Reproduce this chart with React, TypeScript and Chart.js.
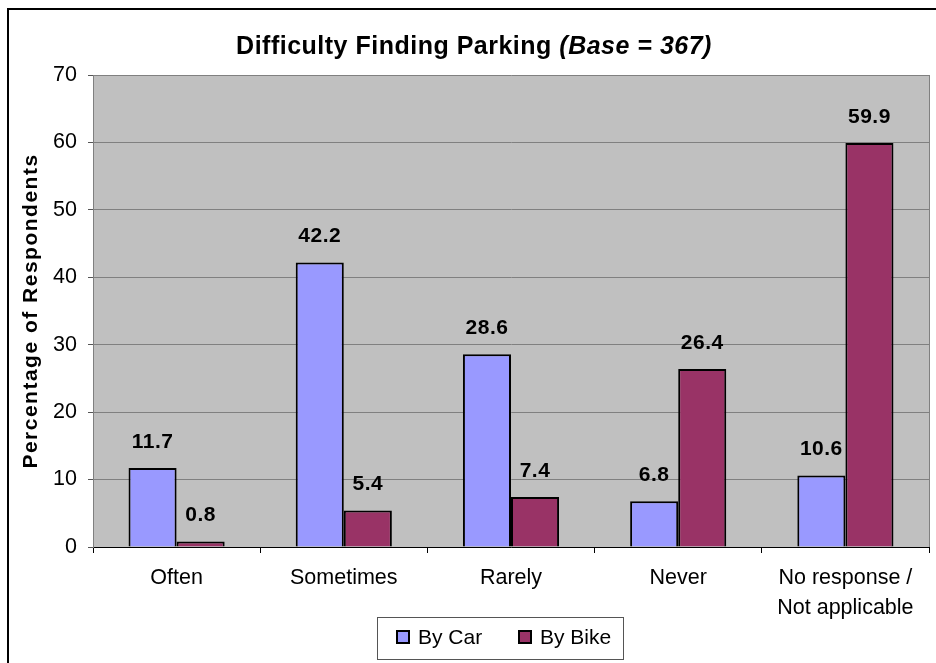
import React, { useEffect, useRef } from 'react';
import { Chart, registerables } from 'chart.js';

Chart.register(...registerables);

const categories: (string | string[])[] = ['Often', 'Sometimes', 'Rarely', 'Never', ['No response /', 'Not applicable']];
const byCar = [11.7, 42.2, 28.6, 6.8, 10.6];
const byBike = [0.8, 5.4, 7.4, 26.4, 59.9];
const seriesNames = ['By Car', 'By Bike'];
const seriesColors = ['#9999FF', '#993366'];
const yMin = 0;
const yMax = 70;
const yStep = 10;
const titleMain = 'Difficulty Finding Parking ';
const titleBase = '(Base = 367)';
const yTitle = 'Percentage of Respondents';

const FONT = 'Arial, "Liberation Sans", sans-serif';

const decor = {
  id: 'decor',
  beforeDraw(chart: any) {
    const { ctx, chartArea: a, width, height } = chart;
    ctx.save();
    ctx.fillStyle = '#FFFFFF';
    ctx.fillRect(0, 0, width, height);
    ctx.fillStyle = '#C0C0C0';
    ctx.fillRect(a.left, a.top, a.right - a.left, a.bottom - a.top);
    ctx.restore();
  },
  afterDatasetsDraw(chart: any) {
    const { ctx } = chart;
    ctx.save();
    ctx.fillStyle = '#000';
    (ctx as any).letterSpacing = '0.5px';
    ctx.font = `bold 21px ${FONT}`;
    ctx.textAlign = 'center';
    ctx.textBaseline = 'middle';
    chart.data.datasets.forEach((ds: any, i: number) => {
      const meta = chart.getDatasetMeta(i);
      meta.data.forEach((bar: any, j: number) => {
        ctx.fillText(ds.data[j].toFixed(1), bar.x, bar.y - 26);
      });
    });
    (ctx as any).letterSpacing = '0px';
    ctx.restore();
  },
  afterDraw(chart: any) {
    const { ctx, chartArea: a, height, width } = chart;
    ctx.save();
    // plot right border
    ctx.strokeStyle = '#808080';
    ctx.lineWidth = 1;
    ctx.beginPath();
    ctx.moveTo(Math.round(a.right) + 0.5, a.top);
    ctx.lineTo(Math.round(a.right) + 0.5, a.bottom);
    ctx.stroke();

    // outer border
    ctx.strokeStyle = '#000';
    ctx.lineWidth = 2;
    ctx.beginPath();
    ctx.moveTo(8, height + 2);
    ctx.lineTo(8, 9);
    ctx.lineTo(width + 2, 9);
    ctx.stroke();

    // title
    ctx.fillStyle = '#000';
    ctx.textBaseline = 'middle';
    ctx.textAlign = 'left';
    (ctx as any).letterSpacing = '0.5px';
    ctx.font = `bold 25px ${FONT}`;
    const w1 = ctx.measureText(titleMain).width;
    ctx.font = `italic bold 25px ${FONT}`;
    const w2 = ctx.measureText(titleBase).width;
    const start = 474 - (w1 + w2) / 2;
    ctx.font = `bold 25px ${FONT}`;
    ctx.fillText(titleMain, start, 47);
    ctx.font = `italic bold 25px ${FONT}`;
    ctx.fillText(titleBase, start + w1, 47);

    // y title
    ctx.save();
    ctx.translate(31, (a.top + a.bottom) / 2);
    ctx.rotate(-Math.PI / 2);
    ctx.textAlign = 'center';
    (ctx as any).letterSpacing = '1.5px';
    ctx.font = `bold 21px ${FONT}`;
    ctx.fillText(yTitle, 0, 0);
    ctx.restore();
    (ctx as any).letterSpacing = '0px';

    // legend
    ctx.strokeStyle = '#555';
    ctx.lineWidth = 1;
    ctx.strokeRect(377.5, 617.5, 246, 42);
    const xs = [397, 519];
    seriesNames.forEach((name, i) => {
      ctx.fillStyle = seriesColors[i];
      ctx.fillRect(xs[i], 631, 12, 12);
      ctx.strokeStyle = '#000';
      ctx.lineWidth = 2;
      ctx.strokeRect(xs[i], 631, 12, 12);
      ctx.fillStyle = '#000';
      ctx.font = `21px ${FONT}`;
      ctx.textAlign = 'left';
      ctx.textBaseline = 'middle';
      ctx.fillText(name, xs[i] + 21, 638);
    });
    ctx.restore();
  },
};

export default function App() {
  const ref = useRef<HTMLCanvasElement | null>(null);
  useEffect(() => {
    document.body.style.margin = '0';
    const canvas = ref.current!;
    const chart = new Chart(canvas, {
      type: 'bar',
      data: {
        labels: categories as any,
        datasets: seriesNames.map((name, i) => ({
          label: name,
          data: i === 0 ? byCar : byBike,
          backgroundColor: seriesColors[i],
          borderColor: '#000',
          borderWidth: 2,
          categoryPercentage: 0.575,
          barPercentage: 1,
        })),
      },
      options: {
        animation: false,
        responsive: false,
        devicePixelRatio: 1,
        layout: { padding: { top: 75, right: 7, left: 0, bottom: 0 } },
        plugins: {
          legend: { display: false },
          title: { display: false },
          tooltip: { enabled: false },
        },
        scales: {
          x: {
            afterFit: (s: any) => { s.height = 116; },
            grid: {
              display: true,
              drawOnChartArea: false,
              drawTicks: true,
              tickLength: 6,
              tickColor: '#000',
              offset: true,
            },
            border: { color: '#000', width: 1 },
            ticks: {
              color: '#000',
              padding: 10,
              maxRotation: 0,
              autoSkip: false,
              font: { family: FONT, size: 21.5, lineHeight: 1.4 },
            },
          },
          y: {
            min: yMin,
            max: yMax,
            afterFit: (s: any) => { s.width = 93; },
            grid: {
              color: '#808080',
              tickColor: '#555',
              tickLength: 5,
            },
            border: { color: '#808080', width: 1 },
            ticks: {
              stepSize: yStep,
              color: '#000',
              padding: 11,
              font: { family: FONT, size: 21.5 },
            },
          },
        },
      },
      plugins: [decor],
    });
    return () => chart.destroy();
  }, []);
  return (
    <div style={{ width: 936, height: 663 }}>
      <canvas ref={ref} width={936} height={663} />
    </div>
  );
}
